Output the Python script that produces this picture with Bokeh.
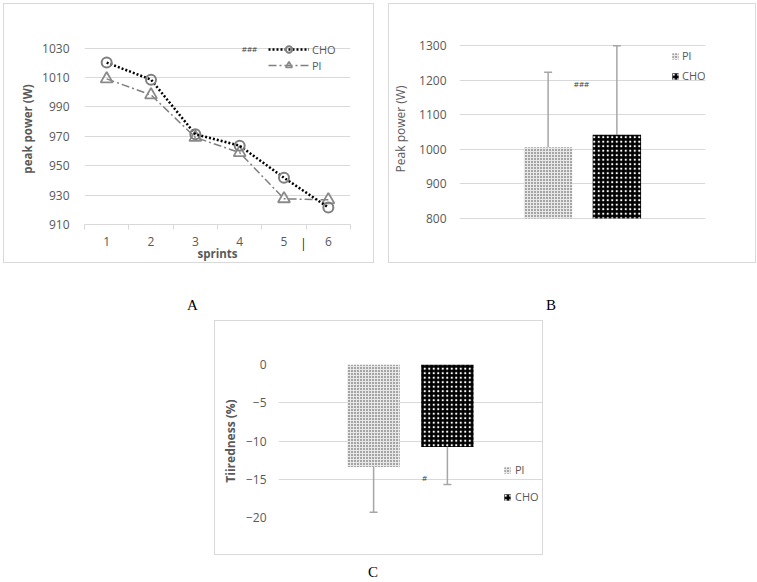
from bokeh.plotting import figure
from bokeh.models import (Range1d, FactorRange, FixedTicker, Legend, LegendItem, Label,
                          Whisker, TeeHead, ColumnDataSource, Div, Spacer)
from bokeh.layouts import row, column
from bokeh.embed import file_html
from bokeh.resources import INLINE

# ---------------- data ----------------
sprints = [1, 2, 3, 4, 5, 6]
cho_peak = [1020.2, 1008.6, 971.4, 963.6, 941.8, 921.6]
pl_peak = [1009.1, 998.2, 969.3, 958.9, 927.5, 926.8]
A_yticks = [910, 930, 950, 970, 990, 1010, 1030]
A_yrange = (910, 1040)            # headroom above top tick for the legend

groups = ["Pl", "CHO"]
peak_mean = [1006, 1042]
peak_sd = [217, 257]
B_yticks = [800, 900, 1000, 1100, 1200, 1300]
B_yrange = (782.7, 1334.7)        # frame shared with panel A in the same row

tired_mean = [-13.4, -10.8]
tired_sd = [5.9, 4.9]
C_yticks = [-20, -15, -10, -5, 0]

# ---------------- style ----------------
FONT = "Open Sans"
GREY_TXT = "#595959"
GRID = "#d9d9d9"
BORDER = {"border": "1px solid #d9d9d9", "box-sizing": "border-box"}


def base_style(p):
    p.outline_line_color = None
    p.background_fill_color = "white"
    p.border_fill_color = "white"
    for ax in p.axis:
        ax.major_label_text_font = FONT
        ax.major_label_text_font_size = "12px"
        ax.major_label_text_color = GREY_TXT
        ax.axis_label_text_font = FONT
        ax.axis_label_text_color = GREY_TXT
        ax.axis_label_text_font_style = "normal"
        ax.major_tick_out = 0
        ax.major_tick_in = 0
    p.yaxis.axis_line_color = None
    p.yaxis.major_tick_line_color = None
    p.yaxis.minor_tick_line_color = None
    p.yaxis.minor_tick_out = 0
    p.yaxis.minor_tick_in = 0
    p.ygrid.grid_line_color = GRID
    p.xgrid.visible = False


# ---------------- panel A ----------------
pA = figure(width=371, height=260, x_range=Range1d(0.5, 6.5),
            y_range=Range1d(*A_yrange),
            output_backend="svg", toolbar_location=None,
            min_border_left=80, min_border_right=25, min_border_top=29, min_border_bottom=40,
            styles=BORDER, margin=0)
base_style(pA)
pA.yaxis.ticker = FixedTicker(ticks=A_yticks)
pA.yaxis.major_label_standoff = 15
pA.yaxis.axis_label = "peak power (W)"
pA.yaxis.axis_label_text_font_style = "bold"
pA.yaxis.axis_label_text_font_size = "11.5px"
pA.yaxis.axis_label_standoff = 4
pA.xaxis.ticker = FixedTicker(ticks=sprints,
                              minor_ticks=[s - 0.5 for s in sprints] + [sprints[-1] + 0.5])
pA.xaxis.axis_line_color = GRID
pA.xaxis.major_tick_line_color = None
pA.xaxis.minor_tick_line_color = GRID
pA.xaxis.minor_tick_out = 5
pA.xaxis.minor_tick_in = 0
pA.xaxis.major_label_standoff = 7
pA.xaxis.axis_label = "sprints"
pA.xaxis.axis_label_text_font_style = "bold"
pA.xaxis.axis_label_text_font_size = "11.5px"
pA.xaxis.axis_label_standoff = -3

pl_line = pA.line(sprints, pl_peak, line_color="#808080", line_width=1.5, line_dash="8 3 2 3")
pl_pts = pA.scatter(sprints, pl_peak, marker="triangle", size=12, line_color="#8a8a8a",
                    line_width=1.8, fill_alpha=0)
cho_line = pA.line(sprints, cho_peak, line_color="black", line_width=2.5, line_dash="2 2")
cho_pts = pA.scatter(sprints, cho_peak, marker="circle", size=10, line_color="#7f7f7f",
                     line_width=2, fill_alpha=0)

legA = Legend(items=[LegendItem(label="CHO", renderers=[cho_line, cho_pts]),
                     LegendItem(label="Pl", renderers=[pl_line, pl_pts])],
              location=(184, 151), padding=0, margin=0, spacing=0,
              glyph_width=41, glyph_height=16, label_height=16, label_standoff=3,
              label_text_font=FONT, label_text_font_size="11px", label_text_color=GREY_TXT,
              background_fill_alpha=0, border_line_color=None)
pA.add_layout(legA)
pA.add_layout(Label(x=165, y=176, x_units="screen", y_units="screen", text="###",
                    text_font=FONT, text_font_size="8px", text_color="#404040",
                    text_align="center", text_baseline="middle"))

# ---------------- panel B ----------------
pB = figure(width=368, height=260,
            x_range=FactorRange(factors=groups, range_padding=0.789, range_padding_units="absolute"),
            y_range=Range1d(*B_yrange),
            output_backend="svg", toolbar_location=None,
            min_border_left=67, min_border_right=52, min_border_top=29, min_border_bottom=40,
            styles=BORDER, margin=0)
base_style(pB)
pB.xaxis.visible = False
pB.yaxis.ticker = FixedTicker(ticks=B_yticks)
pB.yaxis.major_label_standoff = 13
pB.yaxis.axis_label = "Peak power (W)"
pB.yaxis.axis_label_text_font_size = "12px"
pB.yaxis.axis_label_standoff = 7

PL_STYLE = dict(fill_color="#e8e8e8", line_color=None, hatch_pattern="dot",
                hatch_color="#404040", hatch_scale=3, hatch_weight=1.4)
CHO_STYLE = dict(fill_color="black", line_color=None, hatch_pattern="dot",
                 hatch_color="white", hatch_scale=4.5, hatch_weight=1.1)

barB_pl = pB.vbar(x=[groups[0]], top=[peak_mean[0]], bottom=B_yticks[0], width=0.704, **PL_STYLE)
barB_cho = pB.vbar(x=[groups[1]], top=[peak_mean[1]], bottom=B_yticks[0], width=0.704, **CHO_STYLE)
srcB = ColumnDataSource(dict(x=groups, lower=peak_mean,
                             upper=[m + s for m, s in zip(peak_mean, peak_sd)]))
pB.add_layout(Whisker(base="x", lower="lower", upper="upper", source=srcB,
                      line_color="#a6a6a6", line_width=1.5,
                      upper_head=TeeHead(size=8, line_color="#a6a6a6", line_width=1.5),
                      lower_head=None, level="underlay"))
legB = Legend(items=[LegendItem(label="Pl", renderers=[barB_pl]),
                     LegendItem(label="CHO", renderers=[barB_cho])],
              location=(212, 141), padding=0, margin=0, spacing=5,
              glyph_width=8, glyph_height=8, label_height=15, label_standoff=3,
              label_text_font=FONT, label_text_font_size="11px", label_text_color=GREY_TXT,
              background_fill_alpha=0, border_line_color=None)
pB.add_layout(legB)
pB.add_layout(Label(x=122, y=141, x_units="screen", y_units="screen", text="###",
                    text_font=FONT, text_font_size="8px", text_color="#404040",
                    text_align="center", text_baseline="middle"))

# ---------------- panel C ----------------
pC = figure(width=329, height=235,
            x_range=FactorRange(factors=groups, range_padding=0.789, range_padding_units="absolute"),
            y_range=Range1d(C_yticks[0], C_yticks[-1]),
            output_backend="svg", toolbar_location=None,
            min_border_left=63, min_border_right=2, min_border_top=43, min_border_bottom=39,
            styles=BORDER, margin=0)
base_style(pC)
pC.xaxis.visible = False
pC.yaxis.ticker = FixedTicker(ticks=C_yticks)
pC.yaxis.major_label_standoff = 12
pC.yaxis.axis_label = "Tiiredness (%)"
pC.yaxis.axis_label_text_font_style = "bold"
pC.yaxis.axis_label_text_font_size = "12px"
pC.yaxis.axis_label_standoff = 4

barC_pl = pC.vbar(x=[groups[0]], top=C_yticks[-1], bottom=[tired_mean[0]], width=0.71, **PL_STYLE)
barC_cho = pC.vbar(x=[groups[1]], top=C_yticks[-1], bottom=[tired_mean[1]], width=0.71, **CHO_STYLE)
srcC = ColumnDataSource(dict(x=groups, upper=tired_mean,
                             lower=[m - s for m, s in zip(tired_mean, tired_sd)]))
pC.add_layout(Whisker(base="x", lower="lower", upper="upper", source=srcC,
                      line_color="#a6a6a6", line_width=1.5,
                      lower_head=TeeHead(size=8, line_color="#a6a6a6", line_width=1.5),
                      upper_head=None, level="underlay"))
legC = Legend(items=[LegendItem(label="Pl", renderers=[barC_pl]),
                     LegendItem(label="CHO", renderers=[barC_cho])],
              location=(225, 13), padding=0, margin=0, spacing=12,
              glyph_width=8, glyph_height=8, label_height=15, label_standoff=4,
              label_text_font=FONT, label_text_font_size="11px", label_text_color=GREY_TXT,
              background_fill_alpha=0, border_line_color=None)
pC.add_layout(legC)
pC.add_layout(Label(x=146, y=40, x_units="screen", y_units="screen", text="#",
                    text_font=FONT, text_font_size="8px", text_color="#404040",
                    text_align="center", text_baseline="middle"))

# ---------------- panel letters ----------------
LETTER = "position:absolute;font-family:'Liberation Serif';font-size:15px;line-height:16px;color:#000"
divAB = Div(text=(f'<div style="position:relative;width:757px;height:57px">'
                  f'<span style="{LETTER};left:187px;top:34px">A</span>'
                  f'<span style="{LETTER};left:546px;top:34px">B</span>'
                  f'<span style="{LETTER};left:302px;top:-27px;font-size:14px">|</span></div>'),
            width=757, height=57, margin=0)
divC = Div(text=(f'<div style="position:relative;width:757px;height:26px">'
                 f'<span style="{LETTER};left:368px;top:9px">C</span></div>'),
           width=757, height=26, margin=0)

layout = column(
    Spacer(width=10, height=3, margin=0),
    row(Spacer(width=3, height=260, margin=0), pA,
        Spacer(width=14, height=260, margin=0), pB, spacing=0),
    divAB,
    row(Spacer(width=214, height=235, margin=0), pC, spacing=0),
    divC,
    spacing=0,
)

open("out.html", "w").write(file_html(layout, INLINE))
